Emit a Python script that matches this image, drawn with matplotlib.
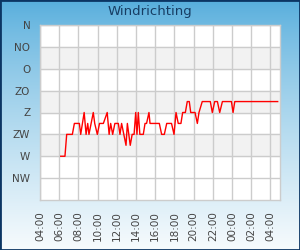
import numpy as np
import matplotlib
matplotlib.use("Agg")
import matplotlib.pyplot as plt
from matplotlib.patches import Rectangle

# tijd in uren (04:00 = 4, volgende dag 04:00 = 28), richting in graden
uren = [6.16, 6.6, 6.78, 7.37, 7.58, 8.1, 8.24, 8.6, 8.8, 8.97, 9.1, 9.55, 9.7, 9.97,
        10.2, 10.6, 11.0, 11.2, 11.36, 11.57, 11.8, 12.16, 12.33, 12.5, 12.96, 13.1,
        13.4, 13.6, 13.8, 13.97, 14.1, 14.24, 14.4, 14.76, 14.94, 15.1, 15.35, 15.46,
        16.43, 16.67, 16.95, 17.2, 17.7, 17.96, 18.17, 18.4, 18.68, 18.86, 19.14,
        19.34, 19.55, 19.7, 20.15, 20.39, 20.56, 20.9, 21.74, 21.95, 22.2, 22.48,
        22.72, 23.0, 23.94, 24.11, 24.29, 28.76]
richting = [90, 90, 135, 135, 157.5, 157.5, 135, 180, 135, 157.5, 135, 180, 157.5, 135,
            157.5, 157.5, 180, 135, 157.5, 135, 157.5, 157.5, 135, 157.5, 112.5, 157.5,
            112.5, 135, 135, 180, 135, 180, 135, 135, 157.5, 157.5, 180, 157.5,
            157.5, 135, 135, 157.5, 157.5, 135, 180, 157.5, 157.5, 180, 180,
            202.5, 202.5, 180, 180, 157.5, 180, 202.5, 202.5, 180, 202.5, 202.5,
            180, 202.5, 202.5, 180, 202.5, 202.5]

y_labels = ["NW", "W", "ZW", "Z", "ZO", "O", "NO", "N"]
y_ticks = [45, 90, 135, 180, 225, 270, 315, 360]
x_ticks = list(range(4, 29, 2))
x_labels = ["%02d:00" % (h % 24) for h in x_ticks]

fig = plt.figure(figsize=(3, 2.5), dpi=100)

# achtergrond met verloop
bg = fig.add_axes([0, 0, 1, 1])
grad = np.linspace(0, 1, 256).reshape(-1, 1)
top = np.array([0x55, 0xad, 0xdc]) / 255
bot = np.array([0xf7, 0xfb, 0xfd]) / 255
img = top + (bot - top) * grad[:, :, None] ** 0.8
bg.imshow(img, aspect="auto", extent=[0, 1, 0, 1], origin="upper")
bg.add_patch(Rectangle((0, 0), 1, 1, transform=bg.transAxes, fill=False,
                       edgecolor="#0b3563", linewidth=2))
bg.set_xlim(0, 1)
bg.set_ylim(0, 1)
bg.axis("off")

ax = fig.add_axes([40 / 300, 1 - 200 / 250, 240 / 300, 175 / 250])
ax.set_facecolor("white")
for lo in (90, 180, 270):
    ax.axhspan(lo, lo + 45, color="#f2f2f2", zorder=0)
ax.plot(uren, richting, color="#ff0000", linewidth=1, zorder=3)

ax.set_xlim(4, 29)
ax.set_ylim(0, 360)
ax.set_yticks(y_ticks)
ax.set_yticklabels(y_labels)
ax.set_xticks(x_ticks)
ax.set_xticklabels(x_labels, rotation=90)
ax.tick_params(length=0, labelsize=7.5, labelcolor="#444444")
ax.tick_params(axis="y", pad=7)
ax.tick_params(axis="x", pad=8)
ax.grid(True, color="#cccccc", linewidth=1)
ax.set_axisbelow(True)
for s in ax.spines.values():
    s.set_color("#cccccc")
    s.set_linewidth(1)

fig.text(0.5, 1 - 12 / 250, "Windrichting", ha="center", va="center",
         fontsize=9.5, color="#173d63")

fig.savefig("out.png", dpi=100)
